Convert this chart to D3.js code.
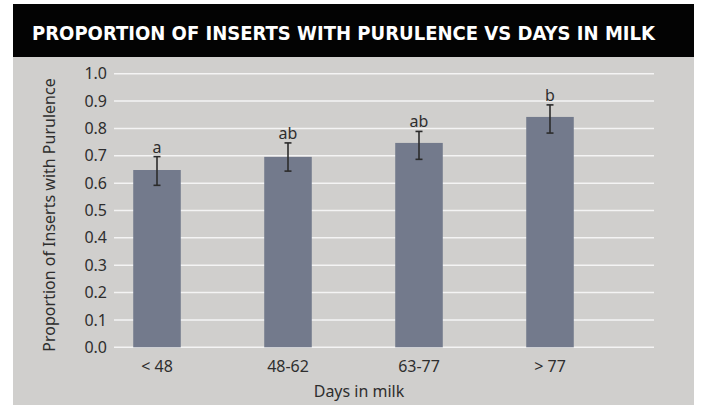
<!DOCTYPE html>
<html>
<head>
<meta charset="utf-8">
<script src="https://cdn.jsdelivr.net/npm/d3@7"></script>
<style>
  body { margin: 0; background: #fff; }
  svg text { font-family: "Noto Sans", "Open Sans", sans-serif; fill: #2e2e2e; }
</style>
</head>
<body>
<svg id="chart"></svg>
<script>
const width = 703;
const height = 405;

const categories = ["< 48", "48-62", "63-77", "> 77"];
const proportions = [0.648, 0.696, 0.747, 0.842];
const errLow = [0.592, 0.644, 0.687, 0.783];
const errHigh = [0.697, 0.747, 0.789, 0.886];
const letters = ["a", "ab", "ab", "b"];
const yTicks = [0, 0.1, 0.2, 0.3, 0.4, 0.5, 0.6, 0.7, 0.8, 0.9, 1.0];

const rows = categories.map((c, i) => ({
    cat: c, value: proportions[i], lo: errLow[i], hi: errHigh[i], letter: letters[i]
}));

const svg = d3.select("#chart")
    .attr("width", width)
    .attr("height", height);

// panel + header
svg.append("rect")
    .attr("x", 13).attr("y", 56)
    .attr("width", 681).attr("height", height - 56)
    .attr("fill", "#d0cfcd");

svg.append("rect")
    .attr("x", 13).attr("y", 4)
    .attr("width", 681).attr("height", 53)
    .attr("fill", "#030303");

svg.append("text")
    .attr("x", 32).attr("y", 40)
    .attr("textLength", 623)
    .attr("lengthAdjust", "spacingAndGlyphs")
    .style("font-family", "'DejaVu Sans Condensed', 'Liberation Sans Narrow', sans-serif")
    .style("font-weight", "bold")
    .style("font-size", "20px")
    .style("fill", "#fff")
    .text("PROPORTION OF INSERTS WITH PURULENCE VS DAYS IN MILK");

let yScale = d3.scaleLinear()
    .domain([0, 1])
    .range([347.3, 73.7]);

let xScale = d3.scaleBand()
    .domain(categories)
    .range([91.5, 615.5])
    .paddingInner(0.637)
    .paddingOuter(0.3185);

// gridlines
svg.append("g")
    .selectAll("line")
    .data(yTicks)
    .enter()
    .append("line")
    .attr("x1", 114).attr("x2", 654)
    .attr("y1", d => yScale(d)).attr("y2", d => yScale(d))
    .attr("stroke", "#f4f4f4")
    .attr("stroke-width", 1.5);

let yAxis = d3.axisLeft(yScale)
    .tickValues(yTicks)
    .tickFormat(d3.format(".1f"))
    .tickSize(0)
    .tickPadding(0);

let yG = svg.append("g")
    .attr("transform", "translate(107, 0)")
    .call(yAxis);
yG.select(".domain").remove();
yG.selectAll("text")
    .style("font-size", "16px")
    .style("font-family", "'Noto Sans', sans-serif")
    .attr("fill", "#2e2e2e");

let xAxis = d3.axisBottom(xScale)
    .tickSize(0)
    .tickPadding(0);

let xG = svg.append("g")
    .attr("transform", "translate(0, 361)")
    .call(xAxis);
xG.select(".domain").remove();
xG.selectAll("text")
    .style("font-size", "16px")
    .style("font-family", "'Noto Sans', sans-serif")
    .attr("fill", "#2e2e2e");

// bars
svg.selectAll("rect.bar")
    .data(rows)
    .enter()
    .append("rect")
    .attr("class", "bar")
    .attr("x", d => xScale(d.cat))
    .attr("width", xScale.bandwidth())
    .attr("y", d => yScale(d.value))
    .attr("height", d => yScale(0) - yScale(d.value))
    .attr("fill", "#737a8c");

// error bars
let eb = svg.append("g")
    .attr("stroke", "#2b2b2b")
    .attr("stroke-width", 1.6);

rows.forEach(d => {
    let cx = xScale(d.cat) + xScale.bandwidth() / 2;
    eb.append("line")
      .attr("x1", cx).attr("x2", cx)
      .attr("y1", yScale(d.hi)).attr("y2", yScale(d.lo));
    eb.append("line")
      .attr("x1", cx - 3.5).attr("x2", cx + 3.5)
      .attr("y1", yScale(d.hi)).attr("y2", yScale(d.hi));
    eb.append("line")
      .attr("x1", cx - 3.5).attr("x2", cx + 3.5)
      .attr("y1", yScale(d.lo)).attr("y2", yScale(d.lo));
});

// significance letters
svg.selectAll("text.letter")
    .data(rows)
    .enter()
    .append("text")
    .attr("class", "letter")
    .attr("x", d => xScale(d.cat) + xScale.bandwidth() / 2)
    .attr("y", d => yScale(d.hi) - 4)
    .attr("text-anchor", "middle")
    .style("font-size", "16px")
    .text(d => d.letter);

// axis titles
svg.append("text")
    .attr("x", 359).attr("y", 397)
    .attr("text-anchor", "middle")
    .style("font-size", "16px")
    .text("Days in milk");

svg.append("text")
    .attr("transform", "translate(55, 215) rotate(-90)")
    .attr("text-anchor", "middle")
    .style("font-size", "16px")
    .text("Proportion of Inserts with Purulence");
</script>
</body>
</html>
